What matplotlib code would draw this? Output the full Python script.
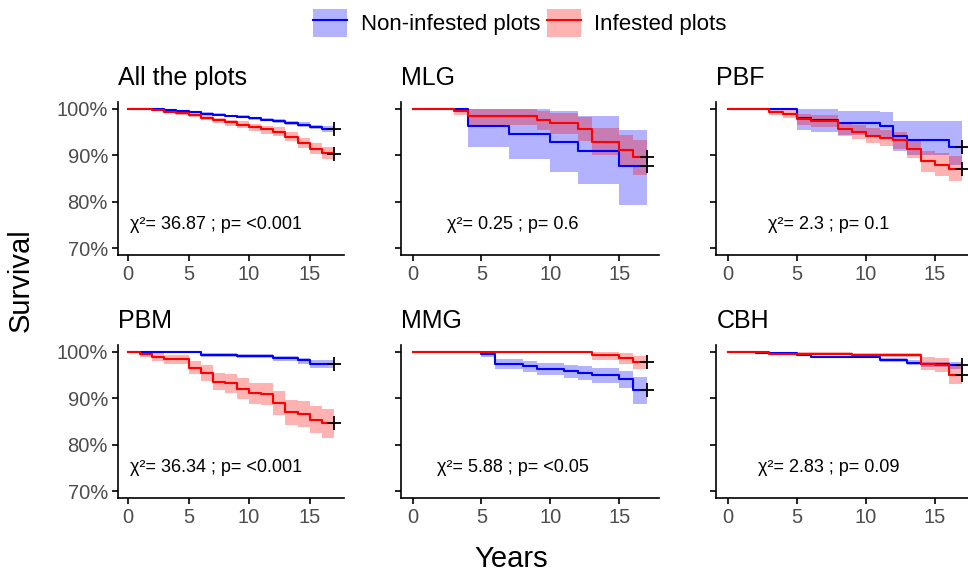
import matplotlib
matplotlib.use("Agg")
import matplotlib.pyplot as plt
from matplotlib.patches import Patch
from matplotlib.lines import Line2D

plt.rcParams['font.family'] = ['Liberation Sans', 'DejaVu Sans']

# survival (%) step data: time, estimate, lower / upper CI
all_non_t = [0, 2, 3, 4, 5, 6, 7, 8, 9, 10, 11, 12, 13, 14, 15, 16, 17]
all_non_s = [100, 99.9, 99.8, 99.6, 99.4, 99.0, 98.8, 98.5, 98.3, 98.0, 97.7, 97.4, 97.0, 96.6, 96.1, 95.7, 95.6]
all_non_lo = [100, 99.8, 99.7, 99.4, 99.2, 98.8, 98.5, 98.2, 98.0, 97.7, 97.3, 97.0, 96.6, 96.1, 95.6, 95.1, 95.0]
all_non_hi = [100, 100, 99.9, 99.8, 99.6, 99.3, 99.1, 98.8, 98.6, 98.3, 98.1, 97.8, 97.4, 97.1, 96.6, 96.3, 96.2]
all_inf_t = [0, 1, 2, 3, 4, 5, 6, 7, 8, 9, 10, 11, 12, 13, 14, 15, 16, 17]
all_inf_s = [100, 99.9, 99.7, 99.4, 99.1, 98.7, 98.1, 97.6, 97.1, 96.6, 96.0, 95.6, 95.1, 94.0, 92.6, 91.4, 90.4, 90.2]
all_inf_lo = [100, 99.8, 99.5, 99.1, 98.7, 98.2, 97.6, 97.0, 96.4, 95.9, 95.2, 94.7, 94.2, 93.0, 91.5, 90.2, 89.1, 88.9]
all_inf_hi = [100, 100, 99.9, 99.7, 99.4, 99.1, 98.6, 98.1, 97.7, 97.3, 96.8, 96.4, 96.0, 95.0, 93.7, 92.6, 91.7, 91.5]

mlg_non_t = [0, 4, 7, 10, 12, 15, 17]
mlg_non_s = [100, 96.4, 94.6, 92.9, 91.0, 87.6, 87.6]
mlg_non_lo = [100, 91.8, 89.1, 86.4, 83.9, 79.3, 79.3]
mlg_non_hi = [100, 100, 100, 99.5, 98.4, 95.5, 95.5]
mlg_inf_t = [0, 3, 4, 9, 10, 12, 13, 15, 16, 17]
mlg_inf_s = [100, 99.6, 98.4, 97.6, 96.9, 95.6, 92.9, 91.2, 89.6, 89.6]
mlg_inf_lo = [100, 98.7, 96.6, 95.5, 94.6, 93.0, 90.0, 88.0, 85.8, 85.8]
mlg_inf_hi = [100, 100, 99.9, 99.6, 99.2, 98.2, 95.8, 94.4, 93.4, 93.4]

pbf_non_t = [0, 5, 6, 8, 11, 12, 13, 16, 17]
pbf_non_s = [100, 98.0, 97.6, 97.0, 96.4, 94.2, 93.4, 91.8, 91.8]
pbf_non_lo = [100, 95.5, 95.0, 94.3, 93.5, 90.9, 90.0, 88.0, 88.0]
pbf_non_hi = [100, 100, 100, 99.6, 99.4, 97.5, 97.4, 97.3, 97.3]
pbf_inf_t = [0, 3, 4, 5, 6, 8, 9, 10, 11, 12, 13, 14, 15, 16, 17]
pbf_inf_s = [100, 99.4, 99.0, 97.8, 97.3, 95.6, 95.1, 94.2, 93.7, 93.2, 91.4, 88.7, 88.0, 87.1, 87.1]
pbf_inf_lo = [100, 98.7, 98.1, 96.6, 96.0, 94.2, 93.6, 92.6, 92.0, 91.3, 89.4, 86.5, 85.6, 84.4, 84.4]
pbf_inf_hi = [100, 100, 99.8, 99.0, 98.6, 97.0, 96.6, 95.8, 95.4, 95.1, 93.4, 91.0, 90.4, 89.8, 89.8]

pbm_non_t = [0, 6, 9, 12, 14, 15, 17]
pbm_non_s = [100, 99.4, 99.1, 98.7, 98.2, 97.5, 97.4]
pbm_non_lo = [100, 98.9, 98.6, 98.1, 97.5, 96.6, 96.5]
pbm_non_hi = [100, 99.8, 99.6, 99.2, 98.8, 98.3, 98.2]
pbm_inf_t = [0, 1, 2, 3, 5, 6, 7, 8, 9, 10, 11, 12, 13, 14, 15, 16, 17]
pbm_inf_s = [100, 99.5, 98.9, 98.4, 96.6, 95.4, 93.6, 93.2, 92.1, 91.1, 90.9, 88.9, 87.0, 86.6, 85.4, 84.6, 84.6]
pbm_inf_lo = [100, 98.9, 98.0, 97.3, 95.2, 93.7, 91.7, 91.2, 89.9, 88.8, 88.5, 86.3, 84.3, 83.8, 82.5, 81.5, 81.5]
pbm_inf_hi = [100, 100, 99.7, 99.4, 98.0, 97.1, 95.5, 95.2, 94.3, 93.4, 93.3, 91.5, 89.7, 89.4, 88.3, 87.7, 87.7]

mmg_non_t = [0, 5, 6, 8, 9, 11, 12, 13, 15, 16, 17]
mmg_non_s = [100, 99.5, 97.5, 97.0, 96.4, 95.9, 95.5, 95.1, 94.2, 91.8, 91.8]
mmg_non_lo = [100, 99.0, 96.3, 95.7, 95.0, 94.4, 93.9, 93.4, 92.3, 88.8, 88.8]
mmg_non_hi = [100, 100, 98.5, 98.1, 97.6, 97.2, 96.9, 96.6, 95.9, 94.5, 94.5]
mmg_inf_t = [0, 13, 15, 16, 17]
mmg_inf_s = [100, 99.3, 98.6, 97.8, 97.8]
mmg_inf_lo = [100, 98.3, 97.3, 96.3, 96.3]
mmg_inf_hi = [100, 100, 99.7, 99.2, 99.2]

cbh_non_t = [0, 2, 5, 6, 11, 13, 14, 16, 17]
cbh_non_s = [100, 99.8, 99.4, 98.9, 98.2, 97.7, 97.3, 97.1, 97.1]
cbh_non_lo = [100, 99.6, 99.1, 98.6, 97.8, 97.2, 96.7, 96.3, 96.3]
cbh_non_hi = [100, 100, 99.7, 99.2, 98.6, 98.2, 97.9, 97.9, 97.9]
cbh_inf_t = [0, 3, 9, 14, 15, 16, 17]
cbh_inf_s = [100, 99.6, 99.3, 97.5, 97.1, 95.1, 95.1]
cbh_inf_lo = [100, 99.3, 98.9, 96.1, 95.7, 93.0, 93.0]
cbh_inf_hi = [100, 99.9, 99.7, 98.9, 98.6, 97.1, 97.1]

titles = ["All the plots", "MLG", "PBF", "PBM", "MMG", "CBH"]
stats = ["χ²= 36.87 ; p= <0.001", "χ²= 0.25 ; p= 0.6", "χ²= 2.3 ; p= 0.1",
         "χ²= 36.34 ; p= <0.001", "χ²= 5.88 ; p= <0.05", "χ²= 2.83 ; p= 0.09"]
yticks = [70, 80, 90, 100]
ytick_labels = ["70%", "80%", "90%", "100%"]
xticks = [0, 5, 10, 15]

non_curves = [
    (all_non_t, all_non_s, all_non_lo, all_non_hi),
    (mlg_non_t, mlg_non_s, mlg_non_lo, mlg_non_hi),
    (pbf_non_t, pbf_non_s, pbf_non_lo, pbf_non_hi),
    (pbm_non_t, pbm_non_s, pbm_non_lo, pbm_non_hi),
    (mmg_non_t, mmg_non_s, mmg_non_lo, mmg_non_hi),
    (cbh_non_t, cbh_non_s, cbh_non_lo, cbh_non_hi),
]
inf_curves = [
    (all_inf_t, all_inf_s, all_inf_lo, all_inf_hi),
    (mlg_inf_t, mlg_inf_s, mlg_inf_lo, mlg_inf_hi),
    (pbf_inf_t, pbf_inf_s, pbf_inf_lo, pbf_inf_hi),
    (pbm_inf_t, pbm_inf_s, pbm_inf_lo, pbm_inf_hi),
    (mmg_inf_t, mmg_inf_s, mmg_inf_lo, mmg_inf_hi),
    (cbh_inf_t, cbh_inf_s, cbh_inf_lo, cbh_inf_hi),
]

BLUE = "#0000FF"
RED = "#FF0000"

fig = plt.figure(figsize=(9.68, 5.72), dpi=100)
W, H = 968.0, 572.0
lefts = [117.7, 400.8, 716.3]
widths = [226.5, 257.7, 257.7]
tops = [102, 345]
ph = 153

for i in range(6):
    r, c = divmod(i, 3)
    ax = fig.add_axes([lefts[c] / W, 1 - (tops[r] + ph) / H, widths[c] / W, ph / H])
    for (t, s, lo, hi), col in ((non_curves[i], BLUE), (inf_curves[i], RED)):
        ax.fill_between(t, lo, hi, step='post', color=col, alpha=0.3, lw=0)
        ax.step(t, s, where='post', color=col, lw=1.5)
        ax.plot(t[-1], s[-1], marker='+', color='black', ms=10, mew=1.3)
    ax.set_xlim(-0.85, 17.85)
    ax.set_ylim(68.5, 101.5)
    ax.set_xticks(xticks)
    ax.set_yticks(yticks)
    if c == 0:
        ax.set_yticklabels(ytick_labels)
    else:
        ax.set_yticklabels([])
    for sp in ('top', 'right'):
        ax.spines[sp].set_visible(False)
    for sp in ('left', 'bottom'):
        ax.spines[sp].set_linewidth(1.2)
        ax.spines[sp].set_color('black')
    ax.tick_params(length=4, width=1.2, labelsize=14.5, labelcolor='#4D4D4D', pad=3)
    ax.set_title(titles[i], loc='left', fontsize=18, pad=12)
    ax.text(7.3, 75, stats[i], ha='center', va='center', fontsize=13)

fig.text(0.021, 1 - 280 / H, "Survival", rotation=90, ha='center', va='center', fontsize=21)
fig.text(0.528, 0.008, "Years", ha='center', va='baseline', fontsize=21)

handles = [(Patch(facecolor=BLUE, alpha=0.3, lw=0), Line2D([], [], color=BLUE, lw=1.5)),
           (Patch(facecolor=RED, alpha=0.3, lw=0), Line2D([], [], color=RED, lw=1.5))]
fig.legend(handles, ["Non-infested plots", "Infested plots"], loc='center',
           bbox_to_anchor=(0.537, 1 - 23 / H), ncol=2, frameon=False, fontsize=16,
           handlelength=1.55, handleheight=1.5, handletextpad=0.6, columnspacing=0.3,
           borderpad=0)

fig.savefig("out.png", dpi=100)
